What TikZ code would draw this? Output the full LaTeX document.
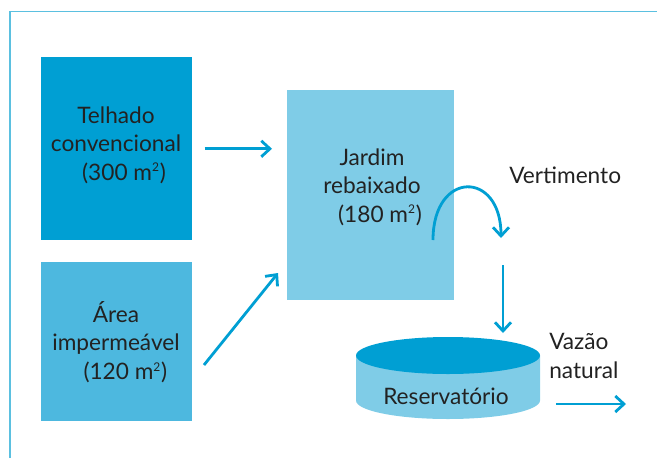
\documentclass[tikz,border=0pt]{standalone}
\usepackage{fontspec}
\setmainfont{Lato}
\usetikzlibrary{arrows.meta}
\definecolor{cDark}{RGB}{0,159,211}
\definecolor{cMid}{RGB}{77,184,223}
\definecolor{cLight}{RGB}{127,204,231}
\definecolor{cFrame}{RGB}{91,192,224}
\definecolor{cText}{RGB}{34,34,34}
\newcommand{\sqm}{m\textsuperscript{\fontsize{9}{9}\selectfont 2}}
\tikzset{
  box/.style={draw=none, inner sep=0pt, anchor=north west, text=cText, align=center},
  lbl/.style={text=cText, font=\fontsize{17}{21.5}\selectfont, align=left, inner sep=0pt},
  arr/.style={draw=cDark, line width=2.1pt, -{Straight Barb[length=6.5pt,width=12pt,line width=2.1pt]}}
}
\begin{document}
\begin{tikzpicture}[x=0.75pt,y=-0.75pt]
\useasboundingbox (0,0) rectangle (657,458);
% frame
\draw[cFrame, line width=1.3pt] (10,458) -- (10,11.5) -- (657,11.5);
% boxes
\node[box, fill=cDark, minimum width=151*0.75pt, minimum height=183*0.75pt] (t) at (41,57) {};
\node[lbl, align=center] (tt) at (116,145) {Telhado\\convencional\\\hspace*{12pt}(300 \sqm)};
\node[box, fill=cMid, minimum width=151*0.75pt, minimum height=159*0.75pt] (a) at (41,262) {};
\node[lbl, align=center] (at) at (116,342) {Área\\impermeável\\\hspace*{14pt}(120 \sqm)};
\node[box, fill=cLight, minimum width=167*0.75pt, minimum height=210*0.75pt] (j) at (287,90) {};
\node[lbl, align=center] (jt) at (372,187) {Jardim\\rebaixado\\\hspace*{12pt}(180 \sqm)};
% reservoir
\fill[cLight] (356,355.5) -- (356,400.5) arc[start angle=180,end angle=0,x radius=92,y radius=18.5] -- (540,355.5) -- cycle;
\fill[cDark] (448,355.5) ellipse[x radius=92, y radius=18.5];
\node[lbl] (r) at (446,396) {Reservatório};
% labels
\node[lbl, anchor=west] (v) at (509,175) {Vertimento};
\node[lbl, anchor=north west] (vn) at (549,333) {Vazão\\natural};
% arrows
\draw[arr, shorten <=12*0.75pt, shorten >=15*0.75pt] (t.east) -- (t.east -| j.west);
\coordinate (a2s) at (204,365);
\coordinate (a2e) at (278,273);
\draw[arr] (a2s) -- (a2e);
\coordinate (cs) at (433,240);
\coordinate (ce) at (501,238);
\draw[arr] (cs) .. controls (433,170) and (501,170) .. (ce);
\coordinate (ds) at (503,265);
\coordinate (de) at (503,333);
\draw[arr] (ds) -- (de);
\coordinate (ns) at (556,404);
\coordinate (ne) at (626,404);
\draw[arr] (ns) -- (ne);
\end{tikzpicture}
\end{document}
